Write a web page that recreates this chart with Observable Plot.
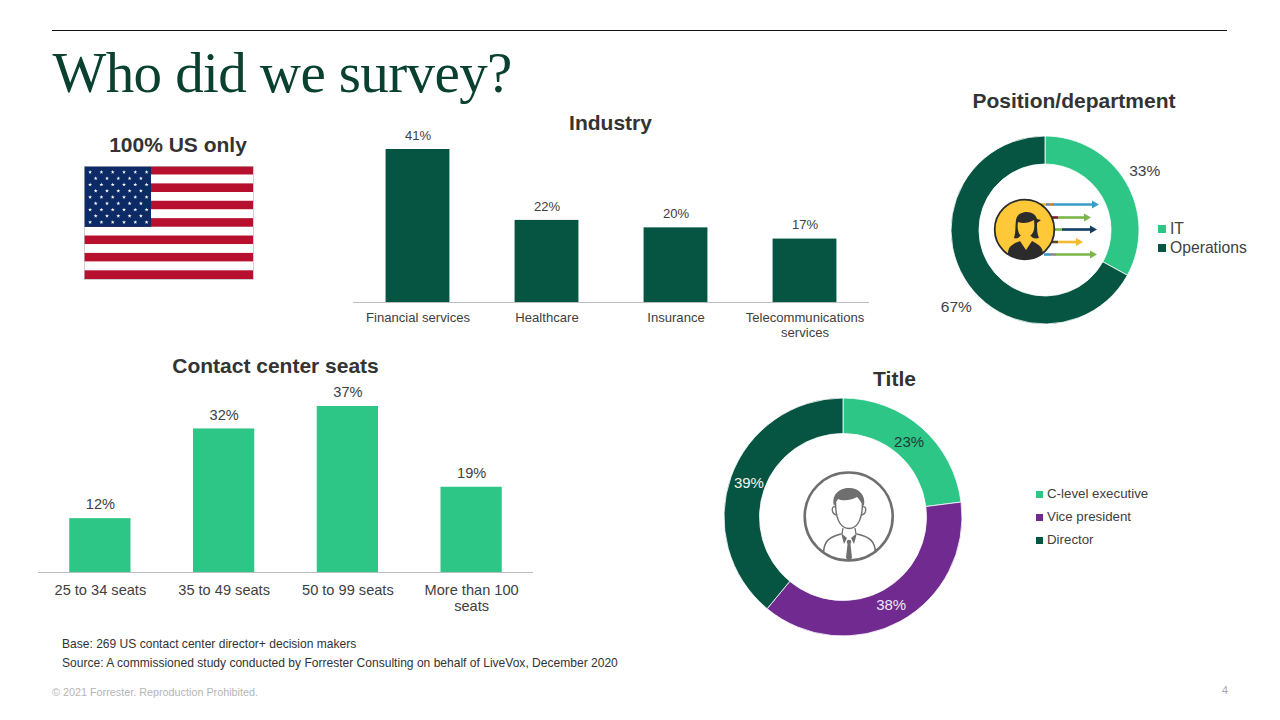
<!DOCTYPE html>
<html>
<head>
<meta charset="utf-8">
<script src="https://cdn.jsdelivr.net/npm/d3@7"></script>
<script src="https://cdn.jsdelivr.net/npm/@observablehq/plot@0.6"></script>
<style>
html,body{margin:0;padding:0;background:#fff;}
#page{position:relative;width:1280px;height:720px;overflow:hidden;font-family:"Liberation Sans",Arial,sans-serif;}
.t{position:absolute;white-space:nowrap;line-height:1;}
.chart{position:absolute;}
.chart svg{display:block;overflow:visible;background:transparent;}
.sw{position:absolute;}
</style>
</head>
<body>
<div id="page"></div>
<script>
// ---- data ----
const industryCats = ["Financial services", "Healthcare", "Insurance", "Telecommunications\nservices"];
const industryVals = [41, 22, 20, 17];
const seatCats = ["25 to 34 seats", "35 to 49 seats", "50 to 99 seats", "More than 100\nseats"];
const seatVals = [12, 32, 37, 19];
const positionCats = ["IT", "Operations"];
const positionVals = [33, 67];
const titleCats = ["C-level executive", "Vice president", "Director"];
const titleVals = [23, 38, 39];
const flagStripes = [0,1,2,3,4,5,6,7,8,9,10,11,12];
const flagStarRows = [6,5,6,5,6,5,6,5,6];

// ---- palette ----
const darkGreen = "#065543", lightGreen = "#2EC687", purple = "#702A90";
const ink = "#404040";
const page = document.getElementById("page");

function put(text, x, y, o = {}) {
  const d = document.createElement("div");
  d.className = "t";
  d.textContent = text;
  const tx = o.anchor === "middle" ? "-50%" : o.anchor === "end" ? "-100%" : "0";
  Object.assign(d.style, {
    left: x + "px", top: y + "px", transform: `translate(${tx},-50%)`,
    fontSize: (o.size || 13) + "px", fontWeight: o.weight || "normal",
    color: o.color || ink, fontFamily: o.family || "inherit",
    letterSpacing: o.spacing || "normal"
  });
  page.appendChild(d);
}
function place(node, left, top) {
  const w = document.createElement("div");
  w.className = "chart";
  w.style.left = left + "px"; w.style.top = top + "px";
  w.appendChild(node);
  page.appendChild(w);
}
function legend(cats, colors, x, ys, box, textX, size) {
  cats.forEach((c, i) => {
    const s = document.createElement("div");
    s.className = "sw";
    Object.assign(s.style, {left: x + "px", top: (ys[i] - box / 2) + "px", width: box + "px", height: box + "px", background: colors[i]});
    page.appendChild(s);
    put(c, textX, ys[i], {size, color: ink});
  });
}

// ---- frame text ----
const rule = document.createElement("div");
Object.assign(rule.style, {position: "absolute", left: "52px", top: "30px", width: "1175px", height: "1.2px", background: "#111"});
page.appendChild(rule);
put("Who did we survey?", 52.5, 72, {size: 57, family: '"Liberation Serif",serif', color: "#0A4030", spacing: "-0.6px"});
put("100% US only", 178, 144, {size: 21, weight: "bold", anchor: "middle", color: "#333"});
put("Industry", 610.5, 122, {size: 21, weight: "bold", anchor: "middle", color: "#333"});
put("Position/department", 1074, 100, {size: 21, weight: "bold", anchor: "middle", color: "#333"});
put("Contact center seats", 275.5, 365, {size: 21, weight: "bold", anchor: "middle", color: "#333"});
put("Title", 894.5, 378, {size: 21, weight: "bold", anchor: "middle", color: "#333"});
put("Base: 269 US contact center director+ decision makers", 62, 644, {size: 12.05, color: "#333"});
put("Source: A commissioned study conducted by Forrester Consulting on behalf of LiveVox, December 2020", 62, 663, {size: 12.05, color: "#333"});
put("© 2021 Forrester. Reproduction Prohibited.", 52, 692, {size: 10.8, color: "#b5b5b5"});
put("4", 1228, 691, {size: 11.4, color: "#a8a8a8", anchor: "end"});

// ---- bar charts ----
function barChart({cats, vals, fill, width, height, marginTop, marginBottom, size, tickPadding, lineHeight, padInner}) {
  const rows = cats.map((c, i) => ({c, v: vals[i]}));
  return Plot.plot({
    width, height, marginTop, marginBottom, marginLeft: 0, marginRight: 0,
    style: {fontFamily: '"Liberation Sans",Arial,sans-serif', fontSize: size + "px", color: ink, background: "transparent"},
    x: {domain: cats, paddingInner: padInner, paddingOuter: padInner / 2, round: false, label: null, axis: null},
    y: {domain: [0, d3.max(vals)], axis: null, label: null},
    marks: [
      Plot.barY(rows, {x: "c", y: "v", fill}),
      Plot.ruleY([0], {stroke: "#bdbdbd", strokeWidth: 1}),
      Plot.text(rows, {x: "c", y: "v", text: d => d.v + "%", dy: -14, fill: ink, fontSize: size}),
      Plot.axisX({domain: cats, anchor: "bottom", tickSize: 0, tickPadding, label: null, lineHeight, fill: ink, fontSize: size})
    ]
  });
}
place(barChart({cats: industryCats, vals: industryVals, fill: darkGreen, width: 516, height: 220,
  marginTop: 24, marginBottom: 43, size: 13.1, tickPadding: 9, lineHeight: 1.15, padInner: 0.505}), 353, 125);
place(barChart({cats: seatCats, vals: seatVals, fill: lightGreen, width: 495, height: 245,
  marginTop: 31, marginBottom: 48, size: 14.6, tickPadding: 11, lineHeight: 1.1, padInner: 0.505}), 38, 375);

// ---- donuts ----
function donut({cats, vals, colors, size, outer, inner, labelR, labelSize, labelFills, nudges}) {
  const pie = d3.pie().sort(null).value(d => d.v)(cats.map((c, i) => ({c, v: vals[i]})));
  const arc = d3.arc().outerRadius(outer).innerRadius(inner);
  const slices = (index, scales, values, dim) => {
    const g = d3.create("svg:g").attr("transform", `translate(${dim.width / 2},${dim.height / 2})`);
    g.selectAll("path").data(pie).join("path")
      .attr("d", arc)
      .attr("fill", d => scales.color(d.data.c))
      .attr("stroke", "#fff").attr("stroke-width", 0.8);
    g.selectAll("text").data(pie).join("text")
      .attr("transform", (d, i) => {
        const a = (d.startAngle + d.endAngle) / 2;
        const n = nudges ? nudges[i] : [0, 0];
        return `translate(${labelR * Math.sin(a) + n[0]},${-labelR * Math.cos(a) + n[1]})`;
      })
      .attr("text-anchor", "middle").attr("dy", "0.35em")
      .attr("font-size", labelSize).attr("fill", (d, i) => labelFills[i])
      .text(d => d.data.v + "%");
    return g.node();
  };
  return Plot.plot({
    width: size, height: size, margin: 0,
    style: {fontFamily: '"Liberation Sans",Arial,sans-serif', background: "transparent"},
    color: {domain: cats, range: colors},
    marks: [slices]
  });
}
const posColors = [lightGreen, darkGreen];
const titleColors = [lightGreen, purple, darkGreen];
place(donut({cats: positionCats, vals: positionVals, colors: posColors, size: 260, outer: 94, inner: 66,
  labelR: 117, labelSize: 15.5, labelFills: [ink, ink], nudges: [[-1, 0], [12, 17]]}), 1045 - 130, 229.5 - 130);
place(donut({cats: titleCats, vals: titleVals, colors: titleColors, size: 260, outer: 119, inner: 83.5,
  labelR: 100, labelSize: 15, labelFills: ["#1d3a30", "#f0e8f4", "#eef5f2"]}), 843 - 130, 517 - 130);
legend(positionCats, posColors, 1158, [229, 248], 8, 1170, 15.7);
legend(titleCats, titleColors, 1036, [494, 517, 540], 7, 1047, 13.3);

// ---- flag ----
const flagW = 169, flagH = 113;
const stripeRows = flagStripes.map(i => ({i, red: i % 2 === 0}));
const stars = flagStarRows.flatMap((n, r) => d3.range(n).map(k => ({
  x: (n === 6 ? 5.6 : 11.2) + k * 11.3,
  y: 5.6 + r * 6.27
})));
place(Plot.plot({
  width: flagW, height: flagH, margin: 0,
  x: {domain: [0, flagW], axis: null}, y: {domain: [flagH, 0], axis: null},
  style: {background: "transparent"},
  marks: [
    Plot.rect(stripeRows, {x1: 0, x2: flagW, y1: d => d.i * flagH / 13, y2: d => (d.i + 1) * flagH / 13, fill: d => d.red ? "#B70F2E" : "#FFFFFF"}),
    Plot.rect([0], {x1: 0, x2: 67, y1: 0, y2: flagH * 7 / 13, fill: "#0B2A66"}),
    Plot.dot(stars, {x: "x", y: "y", symbol: "star", r: 1.25, fill: "#fff"}),
    Plot.frame({stroke: "#bbb", strokeWidth: 0.7})
  ]
}), 84, 166);

// ---- icons ----
const ns = "http://www.w3.org/2000/svg";
const overlay = document.createElementNS(ns, "svg");
overlay.setAttribute("width", 1280); overlay.setAttribute("height", 720);
overlay.style.cssText = "position:absolute;left:0;top:0;pointer-events:none";
overlay.innerHTML = `
<g>
  <g stroke-width="2.6" fill="none">
    <path d="M1052 204.5H1094" stroke="#3A9BC8"/><path d="M1040 204.5H1046" stroke="#E8B42E"/><path d="M1046 204.5H1049" stroke="#5A8FB0"/><path d="M1049 204.5H1053" stroke="#E0762A"/>
    <path d="M1058 217.5H1086" stroke="#7AB648"/><path d="M1052 217.5H1058" stroke="#7A1F2B"/>
    <path d="M1062 229.5H1092" stroke="#123E63"/><path d="M1054 229.500H1062" stroke="#7AB648"/>
    <path d="M1058 242H1077" stroke="#F5B82E"/><path d="M1052 242H1058" stroke="#5A4A2B"/>
    <path d="M1056 254.500H1092" stroke="#7AB648"/><path d="M1044 254.500H1050" stroke="#3A9BC8"/><path d="M1050 254.500H1056" stroke="#8A8A8A"/>
  </g>
  <path d="M1092 200.500L1099 204.500L1092 208.500Z" fill="#3A9BC8"/>
  <path d="M1084 213.500L1091 217.500L1084 221.500Z" fill="#7AB648"/>
  <path d="M1090 225.500L1097 229.500L1090 233.500Z" fill="#123E63"/>
  <path d="M1076 238L1083 242L1076 246Z" fill="#F5B82E"/>
  <path d="M1090 250.500L1097 254.500L1090 258.500Z" fill="#7AB648"/>
  <circle cx="1024.500" cy="229.500" r="29.800" fill="#FFC838" stroke="#2b2b2b" stroke-width="1.800"/>
  <path d="M1014 238C1016 232 1015 226 1016 220C1017 214 1022 212 1027 212C1032 212 1036 215 1037 219L1041 220L1037 223C1037 229 1037 234 1039 238C1035 239 1032 238 1031 236H1020C1019 238 1016 239 1014 238Z" fill="#2b2b2b"/>
  <path d="M1018 222C1023 224 1029 223 1034 220C1035 228 1034 233 1030 236C1028 238 1023 238 1021 236C1018 233 1017 228 1018 222Z" fill="#FFC838"/>
  <path d="M1008 254C1008 248 1010 245 1020 241L1026 250L1032 241C1040 245 1043 248 1043 254C1034 261 1016 261 1008 254Z" fill="#2b2b2b"/>
</g>
<g fill="none" stroke="#6F6F6F">
  <circle cx="848.700" cy="516.500" r="44" stroke-width="2.600"/>
  <path d="M835.500 502C835.500 522 842 528.500 849 528.500C856 528.500 862.500 522 862.500 502" stroke-width="1.400"/>
  <path d="M835.500 507C831 505 831 514 836.500 515M862.500 507C867 505 867 514 861.500 515" stroke-width="1.300"/>
  <path d="M823.500 553C824 541 829 537 841 534M875.500 553C875 541 870 537 857 534" stroke-width="1.500"/>
  <path d="M843 528L842 534M855 528L856 534" stroke-width="1.300"/>
</g>
<path d="M834 506C831 495 839 488 849 488C859 488 866 495 864 506C861 503 860 500 857 497C850 501 842 501 838 499C836 502 835 504 834 506Z" fill="#6F6F6F"/>
<path d="M841 533L847 538L844 544Z M857 533L851 538L854 544Z" fill="#6F6F6F"/>
<circle cx="849" cy="542" r="2.300" fill="#6F6F6F"/>
<path d="M847.500 544H850.500L852 558L849 560.500L846 558Z" fill="#6F6F6F"/>
`;
page.appendChild(overlay);
</script>
</body>
</html>
